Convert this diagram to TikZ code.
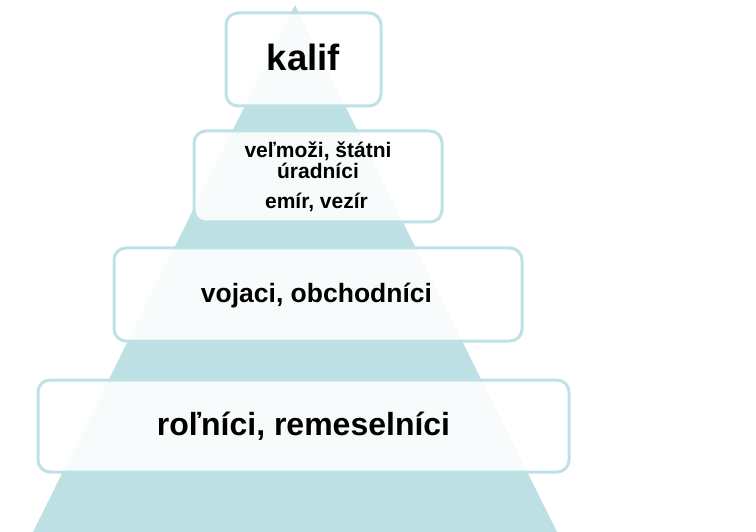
\documentclass[tikz,border=0pt]{standalone}
\usepackage{fontspec}
\setmainfont{Liberation Sans}
\definecolor{tealtri}{HTML}{BCE0E3}
\definecolor{tealline}{HTML}{BEE1E5}
\tikzset{
  box/.style={draw=tealline, line width=3pt, fill=white, fill opacity=0.9, draw opacity=1,
    rounded corners=12pt, inner sep=0pt},
  lbl/.style={anchor=base, inner sep=0pt, text=black, font=\bfseries}
}
\begin{document}
\begin{tikzpicture}[x=1pt,y=-1pt]
\useasboundingbox (0,0) rectangle (756,532);
\coordinate (tl) at (33,532);
\coordinate (ta) at (295,5);
\coordinate (tr) at (557,532);
\fill[tealtri] (tl) -- (ta) -- (tr) -- cycle;
\node[box, minimum width=155pt, minimum height=93pt] (b1) at (303.5,59.5) {};
\node[box, minimum width=248pt, minimum height=91pt] (b2) at (318,176.5) {};
\node[box, minimum width=408pt, minimum height=93pt] (b3) at (318,294.5) {};
\node[box, minimum width=531pt, minimum height=92pt] (b4) at (303.5,426) {};
\node[lbl, font=\bfseries\fontsize{36.5}{40}\selectfont] (t1) at (303.5,71) {kalif};
\node[lbl, font=\bfseries\fontsize{21}{24}\selectfont] (t2a) at (318,158) {veľmoži, štátni};
\node[lbl, font=\bfseries\fontsize{21}{24}\selectfont] (t2b) at (318,179) {úradníci};
\node[lbl, font=\bfseries\fontsize{21}{24}\selectfont] (t2c) at (316.5,209) {emír, vezír};
\node[lbl, font=\bfseries\fontsize{26.5}{30}\selectfont] (t3) at (316.5,302) {vojaci, obchodníci};
\node[lbl, font=\bfseries\fontsize{32}{36}\selectfont] (t4) at (303.5,435) {roľníci, remeselníci};
\end{tikzpicture}
\end{document}
